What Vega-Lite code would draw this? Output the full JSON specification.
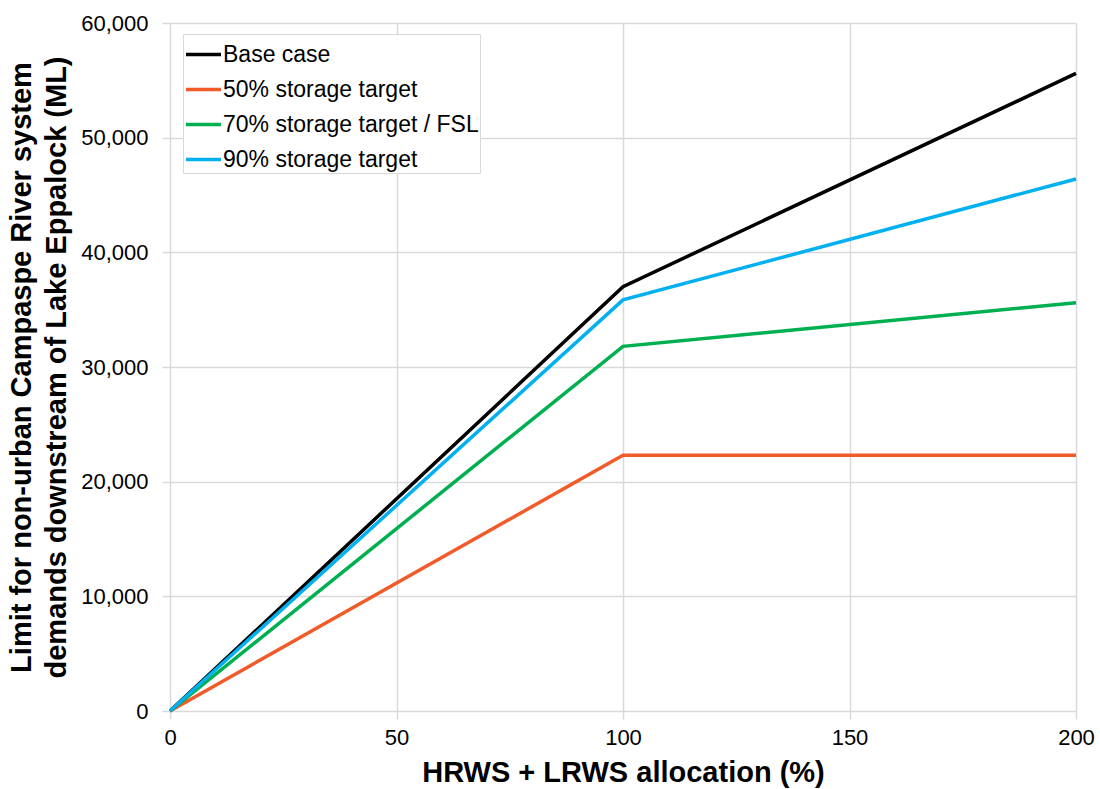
{
  "$schema": "https://vega.github.io/schema/vega-lite/v6.json",
  "width": 906,
  "height": 688,
  "autosize": {"type": "none"},
  "padding": {"left": 170, "top": 23, "right": 24, "bottom": 78},
  "background": "white",
  "config": {
    "view": {"stroke": null},
    "font": "Liberation Sans"
  },
  "data": {
    "values": [
      {"alloc": 0, "limit": 0, "series": "Base case"},
      {"alloc": 100, "limit": 37000, "series": "Base case"},
      {"alloc": 200, "limit": 55600, "series": "Base case"},
      {"alloc": 0, "limit": 0, "series": "50% storage target"},
      {"alloc": 100, "limit": 22300, "series": "50% storage target"},
      {"alloc": 200, "limit": 22300, "series": "50% storage target"},
      {"alloc": 0, "limit": 0, "series": "70% storage target / FSL"},
      {"alloc": 100, "limit": 31800, "series": "70% storage target / FSL"},
      {"alloc": 200, "limit": 35600, "series": "70% storage target / FSL"},
      {"alloc": 0, "limit": 0, "series": "90% storage target"},
      {"alloc": 100, "limit": 35850, "series": "90% storage target"},
      {"alloc": 200, "limit": 46400, "series": "90% storage target"}
    ]
  },
  "mark": {"type": "line", "strokeWidth": 3.5, "clip": false},
  "encoding": {
    "x": {
      "field": "alloc",
      "type": "quantitative",
      "scale": {"domain": [0, 200], "nice": false},
      "axis": {
        "values": [0, 50, 100, 150, 200],
        "title": "HRWS + LRWS allocation (%)",
        "titleFont": "Liberation Sans",
        "titleFontSize": 29,
        "titleFontWeight": "bold",
        "titleColor": "black",
        "titlePadding": 10,
        "labelFontSize": 22,
        "labelColor": "black",
        "labelPadding": 8,
        "labelFlush": false,
        "grid": true,
        "gridColor": "#d9d9d9",
        "gridWidth": 1.5,
        "domain": false,
        "tickColor": "#d9d9d9",
        "tickWidth": 1.5,
        "tickSize": 8
      }
    },
    "y": {
      "field": "limit",
      "type": "quantitative",
      "scale": {"domain": [0, 60000], "nice": false},
      "axis": {
        "values": [0, 10000, 20000, 30000, 40000, 50000, 60000],
        "format": ",d",
        "title": ["Limit for non-urban Campaspe River system", "demands downstream of Lake Eppalock (ML)"],
        "titleFont": "Liberation Sans",
        "titleFontSize": 29,
        "titleFontWeight": "bold",
        "titleColor": "black",
        "titleLineHeight": 35,
        "titlePadding": 9,
        "labelFontSize": 22,
        "labelColor": "black",
        "labelPadding": 14,
        "labelFlush": false,
        "grid": true,
        "gridColor": "#d9d9d9",
        "gridWidth": 1.5,
        "domain": false,
        "tickColor": "#d9d9d9",
        "tickWidth": 1.5,
        "tickSize": 8
      }
    },
    "color": {
      "field": "series",
      "type": "nominal",
      "scale": {
        "domain": ["Base case", "50% storage target", "70% storage target / FSL", "90% storage target"],
        "range": ["#000000", "#F15A29", "#00B050", "#00B0F0"]
      },
      "legend": {
        "title": null,
        "orient": "none",
        "legendX": 13,
        "legendY": 11,
        "symbolType": "stroke",
        "symbolStrokeWidth": 3.5,
        "symbolSize": 1225,
        "labelFontSize": 23,
        "labelColor": "black",
        "labelOffset": 0,
        "labelLimit": 400,
        "rowPadding": 3,
        "padding": 1,
        "strokeColor": "#d9d9d9",
        "fillColor": "white",
        "cornerRadius": 0
      }
    }
  }
}
